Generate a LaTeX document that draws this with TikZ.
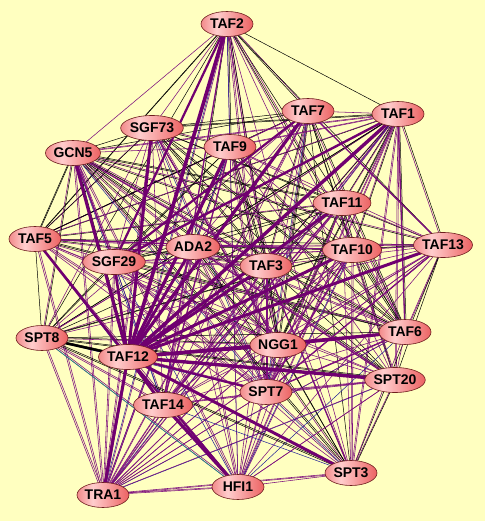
\documentclass[tikz,border=0pt]{standalone}
\usepackage{fontspec}
\setmainfont{Liberation Sans}
\usetikzlibrary{shapes.geometric}
\definecolor{bgy}{RGB}{255,255,192}
\definecolor{pur}{RGB}{125,15,125}
\definecolor{thickp}{RGB}{112,0,112}
\definecolor{blu}{RGB}{30,30,150}
\definecolor{tea}{RGB}{20,140,140}
\definecolor{ns1}{RGB}{242,138,138}
\definecolor{ns2}{RGB}{255,205,205}
\definecolor{ns3}{RGB}{236,98,98}
\definecolor{nbord}{RGB}{110,30,30}
\pgfdeclarehorizontalshading{nshade}{100bp}{color(0bp)=(ns1); color(25bp)=(ns1); color(40bp)=(ns2); color(75bp)=(ns3); color(100bp)=(ns3)}
\pgfdeclarelayer{bgl}
\pgfdeclarelayer{edges}
\pgfsetlayers{bgl,edges,main}
\begin{document}
\begin{tikzpicture}[x=1pt,y=-1pt,
  gnode/.style={ellipse, draw=nbord, line width=0.6pt, shading=nshade, minimum width=52pt, minimum height=25pt, inner sep=0pt, font=\fontsize{14}{15}\selectfont\bfseries},
  thinp/.style={pur, line width=0.55pt},
  thinb/.style={black, line width=0.5pt},
  thinblue/.style={blu, line width=0.5pt},
  medp/.style={pur, line width=1.3pt},
  thk/.style={thickp, line width=#1},
  thkblack/.style={black, line width=2.4pt},
  teal/.style={tea, line width=0.6pt}]
\useasboundingbox (0,0) rectangle (485,521);
\begin{pgfonlayer}{bgl}
\fill[bgy] (0,0) rectangle (485,521);
\end{pgfonlayer}
\node[gnode] (TAF2) at (227,24) {TAF2};
\node[gnode] (TAF7) at (308,111) {TAF7};
\node[gnode] (TAF1) at (398,114) {TAF1};
\node[gnode] (SGF73) at (152,128) {SGF73};
\node[gnode] (TAF9) at (230,147) {TAF9};
\node[gnode] (GCN5) at (73,153) {GCN5};
\node[gnode] (TAF11) at (342,203) {TAF11};
\node[gnode] (TAF5) at (35,239) {TAF5};
\node[gnode] (ADA2) at (193,247) {ADA2};
\node[gnode] (SGF29) at (114,262) {SGF29};
\node[gnode] (TAF3) at (266,266) {TAF3};
\node[gnode] (TAF10) at (352,250) {TAF10};
\node[gnode] (TAF13) at (443,245) {TAF13};
\node[gnode] (TAF6) at (405,332) {TAF6};
\node[gnode] (SPT8) at (42,338) {SPT8};
\node[gnode] (TAF12) at (128,357) {TAF12};
\node[gnode] (NGG1) at (278,345) {NGG1};
\node[gnode] (SPT20) at (395,380) {SPT20};
\node[gnode] (SPT3) at (351,473) {SPT3};
\node[gnode] (SPT7) at (266,392) {SPT7};
\node[gnode] (TAF14) at (163,405) {TAF14};
\node[gnode] (HFI1) at (238,487) {HFI1};
\node[gnode] (TRA1) at (103,495) {TRA1};
\begin{pgfonlayer}{edges}
\foreach \a [count=\i] in {TAF2,TAF7,TAF1,SGF73,TAF9,GCN5,TAF11,TAF5,ADA2,SGF29,TAF3,TAF10,TAF13,TAF6,SPT8,TAF12,NGG1,SPT20,SPT3,SPT7,TAF14,HFI1,TRA1}{
  \foreach \b [count=\j] in {TAF2,TAF7,TAF1,SGF73,TAF9,GCN5,TAF11,TAF5,ADA2,SGF29,TAF3,TAF10,TAF13,TAF6,SPT8,TAF12,NGG1,SPT20,SPT3,SPT7,TAF14,HFI1,TRA1}{
    \ifnum\j>\i
      \pgfmathtruncatemacro\c{mod(\i*7+\j*11,13)}
      \pgfmathtruncatemacro\e{mod(\i*\j+\i,3)}
      \pgfmathtruncatemacro\lim{\i<8 ? 8 : 5}
      \ifnum\j<20
        \ifnum\c<\lim
          \draw[thinb] (\a.center) -- (\b.center);
        \else
          \draw[thinp] (\a.center) -- (\b.center);
        \fi
      \else
        \ifnum\c<3
          \draw[thinblue] (\a.center) -- (\b.center);
        \else
          \draw[thinp] (\a.center) -- (\b.center);
        \fi
      \fi
      \ifnum\e=0
        \ifodd\c
          \draw[thinp] ([shift={(1.3pt,0.9pt)}]\a.center) -- ([shift={(1.3pt,0.9pt)}]\b.center);
        \else
          \ifnum\j<20
            \draw[thinb] ([shift={(1.3pt,0.9pt)}]\a.center) -- ([shift={(1.3pt,0.9pt)}]\b.center);
          \else
            \draw[thinp] ([shift={(1.3pt,0.9pt)}]\a.center) -- ([shift={(1.3pt,0.9pt)}]\b.center);
          \fi
        \fi
      \fi
    \fi
  }
}
\draw[teal] (SPT8.center) -- (HFI1.center);
\foreach \a/\b in {GCN5/SGF29,TAF5/TAF10,TAF7/TAF13,TAF9/TAF14,TAF1/TAF6,SGF73/NGG1,ADA2/SPT20,TAF11/TAF14,TAF3/SPT3,TAF13/SPT7,GCN5/TAF3,TAF2/TAF14,TAF10/SPT7,TAF6/SPT7}
  \draw[medp] (\a.center) -- (\b.center);
\draw[thkblack] (SPT8.center) -- (TAF12.center);
\foreach \b/\w in {TAF2/3.6,SGF73/3,GCN5/3,TAF9/3.2,TAF7/3.2,TAF1/3.4,TAF11/3,TAF10/3,TAF13/3,TAF3/3,ADA2/2.8,SGF29/2.6,TAF5/2.6,NGG1/3.6,SPT20/3.4,SPT3/3,TRA1/3,TAF14/3,SPT7/2,TAF6/2.4,HFI1/2}
  \draw[thk=\w pt] (TAF12.center) -- (\b.center);
\foreach \a/\b/\w in {TAF14/HFI1/3,TAF6/NGG1/3,TAF1/SGF29/2.4,TAF2/SGF29/2.2,TAF7/SGF29/2.2}
  \draw[thk=\w pt] (\a.center) -- (\b.center);
\end{pgfonlayer}
\end{tikzpicture}
\end{document}
